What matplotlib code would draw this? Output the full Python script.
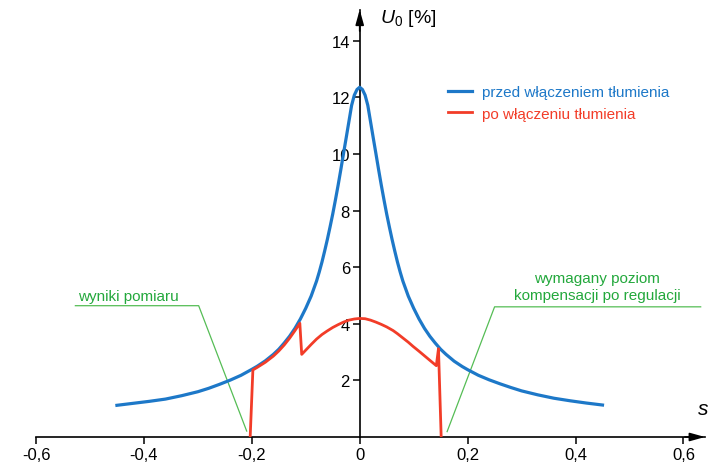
import matplotlib
matplotlib.use("Agg")
import matplotlib.pyplot as plt

plt.rcParams["font.family"] = ["Liberation Sans", "DejaVu Sans"]
plt.rcParams["mathtext.fontset"] = "custom"
plt.rcParams["mathtext.rm"] = "Liberation Sans"
plt.rcParams["mathtext.it"] = "Liberation Sans:italic"

BLUE = "#1d78c8"
RED = "#f23c28"
GREEN_TXT = "#23a83c"
GREEN_LINE = "#55bd55"

# przed wlaczeniem tlumienia
blue_s = [-0.45, -0.42, -0.39, -0.36, -0.33, -0.30, -0.28, -0.26, -0.24, -0.22,
          -0.20, -0.19, -0.175, -0.16, -0.15, -0.14, -0.13, -0.12, -0.11, -0.10,
          -0.09, -0.08, -0.075, -0.07, -0.065, -0.06, -0.055, -0.05, -0.045, -0.04,
          -0.035, -0.03, -0.025, -0.02, -0.015, -0.01, -0.005, 0.0,
          0.005, 0.01, 0.015, 0.02, 0.025, 0.03, 0.035, 0.04, 0.045, 0.05,
          0.055, 0.06, 0.065, 0.07, 0.075, 0.08, 0.09, 0.10, 0.11, 0.12,
          0.13, 0.14, 0.15, 0.16, 0.175, 0.19, 0.20, 0.22, 0.24, 0.26,
          0.28, 0.30, 0.33, 0.36, 0.39, 0.42, 0.45]
blue_u = [1.12, 1.19, 1.26, 1.34, 1.46, 1.60, 1.72, 1.86, 2.01, 2.18,
          2.39, 2.50, 2.69, 2.92, 3.10, 3.32, 3.56, 3.84, 4.17, 4.55,
          4.98, 5.51, 5.83, 6.18, 6.57, 6.98, 7.42, 7.88, 8.38, 8.90,
          9.45, 10.02, 10.58, 11.15, 11.72, 12.08, 12.28, 12.36,
          12.28, 12.08, 11.72, 11.15, 10.58, 10.02, 9.45, 8.90, 8.38, 7.88,
          7.42, 6.98, 6.57, 6.18, 5.83, 5.51, 4.98, 4.55, 4.17, 3.84,
          3.56, 3.32, 3.10, 2.92, 2.68, 2.49, 2.38, 2.18, 2.02, 1.88,
          1.75, 1.63, 1.49, 1.37, 1.28, 1.20, 1.13]

# po wlaczeniu tlumienia
red_s = [-0.203, -0.198, -0.19, -0.175, -0.16, -0.15, -0.14, -0.13, -0.12, -0.111,
         -0.1075, -0.10, -0.09, -0.08, -0.07, -0.06, -0.05, -0.04, -0.03, -0.02,
         -0.01, 0.0, 0.01, 0.02, 0.03, 0.04, 0.05, 0.062, 0.07, 0.08,
         0.09, 0.099, 0.11, 0.12, 0.13, 0.142, 0.146, 0.151]
red_u = [0.0, 2.37, 2.46, 2.64, 2.86, 3.04, 3.25, 3.49, 3.76, 4.02,
         2.92, 3.07, 3.27, 3.46, 3.62, 3.75, 3.87, 3.97, 4.06, 4.13,
         4.17, 4.19, 4.18, 4.13, 4.06, 3.98, 3.89, 3.76, 3.65, 3.50,
         3.35, 3.20, 3.03, 2.87, 2.71, 2.52, 3.12, 0.0]

x_ticks = [-0.6, -0.4, -0.2, 0.0, 0.2, 0.4, 0.6]
x_labels = ["-0,6", "-0,4", "-0,2", "0", "0,2", "0,4", "0,6"]
y_ticks = [2, 4, 6, 8, 10, 12, 14]

# callout leader lines (s, U)
meas_line_s = [-0.527, -0.2985, -0.2095]
meas_line_u = [4.64, 4.64, 0.21]
req_line_s = [0.632, 0.250, 0.162]
req_line_u = [4.6, 4.6, 0.19]

fig = plt.figure(figsize=(7.1, 4.64), dpi=100)
ax = fig.add_axes([36 / 710, 26 / 464, 669 / 710, 427.3 / 464])
ax.set_xlim(-0.6, 0.64)
ax.set_ylim(0, 15.1)

ax.plot(blue_s, blue_u, color=BLUE, lw=2.3, label="przed włączeniem tłumienia",
        zorder=3, solid_joinstyle="round")
ax.plot(red_s, red_u, color=RED, lw=2.0, label="po włączeniu tłumienia", zorder=4)
ax.plot(meas_line_s, meas_line_u, color=GREEN_LINE, lw=0.9, zorder=2)
ax.plot(req_line_s, req_line_u, color=GREEN_LINE, lw=0.9, zorder=2)

ax.text(-0.428, 4.99, "wyniki pomiaru", color=GREEN_TXT, fontsize=11,
        ha="center", va="center")
ax.text(0.44, 5.32, "wymagany poziom\nkompensacji po regulacji", color=GREEN_TXT,
        fontsize=11, ha="center", va="center", linespacing=1.35)

# axes through the origin
for side in ["top", "right"]:
    ax.spines[side].set_visible(False)
ax.spines["left"].set_position(("data", 0))
ax.spines["bottom"].set_position(("data", 0))
ax.spines["left"].set_linewidth(1.2)
ax.spines["bottom"].set_linewidth(1.2)
ax.annotate("", xy=(1.0, 0), xycoords=("axes fraction", "data"),
            xytext=(0.97, 0), textcoords=("axes fraction", "data"),
            arrowprops=dict(arrowstyle="-|>,head_length=0.9,head_width=0.25",
                            color="black", lw=1.2, shrinkA=0, shrinkB=0))
ax.annotate("", xy=(0, 1.0), xycoords=("data", "axes fraction"),
            xytext=(0, 0.95), textcoords=("data", "axes fraction"),
            arrowprops=dict(arrowstyle="-|>,head_length=0.9,head_width=0.25",
                            color="black", lw=1.2, shrinkA=0, shrinkB=0))

ax.set_xticks(x_ticks)
ax.set_xticklabels(x_labels)
ax.set_yticks(y_ticks)
ax.set_yticklabels([str(v) for v in y_ticks])
ax.tick_params(axis="both", direction="out", length=5, width=1.1, labelsize=12,
               colors="black", pad=2)

ax.text(0.037, 14.84, r"$U_0$ [%]", fontsize=14, ha="left", va="center")
ax.text(0.637, 1.0, "s", fontsize=15, style="italic", ha="center", va="center")

ax.legend(loc="upper left", bbox_to_anchor=(448 / 710, 1 - 86 / 464),
          bbox_transform=fig.transFigure, frameon=False, fontsize=11,
          handlelength=1.6, handletextpad=0.65, labelspacing=0.5,
          borderpad=0, borderaxespad=0, labelcolor="linecolor")

fig.savefig("out.png", dpi=100)
